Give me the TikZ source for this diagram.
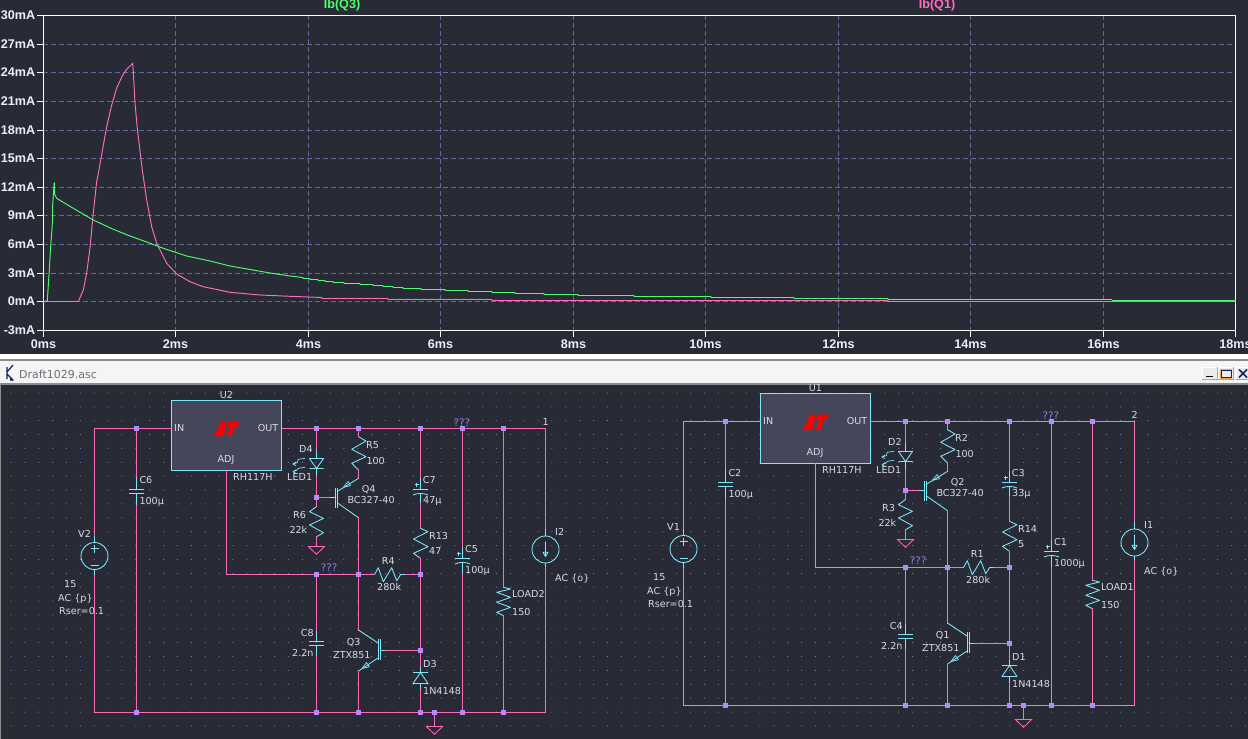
\documentclass[tikz,border=0pt]{standalone}
\usepackage{fontspec}
\setmainfont{DejaVu Sans}
\newfontfamily\plotfont{Liberation Sans}
\definecolor{bgdark}{HTML}{282A36}
\definecolor{griddash}{HTML}{5F6B9E}
\definecolor{griddot}{HTML}{6C7A9C}
\definecolor{wirepink}{HTML}{FF69B9}
\definecolor{wirepale}{HTML}{D98CC6}
\definecolor{compcyan}{HTML}{7EE8FA}
\definecolor{juncpurple}{HTML}{B48CF5}
\definecolor{lbl}{HTML}{D8DBE4}
\definecolor{qmark}{HTML}{8A7FE8}
\definecolor{chipfill}{HTML}{444659}
\definecolor{tracegreen}{HTML}{4DFF6E}
\definecolor{tracepink}{HTML}{FF6EC0}
\definecolor{axislbl}{HTML}{E8F0FF}
\definecolor{titlegrey}{HTML}{6A6E78}
\definecolor{navy}{HTML}{14206A}
\tikzset{
  wire/.style={draw=wirepink,line width=1pt,line cap=rect},
  wirefade/.style={wire},
  comp/.style={draw=compcyan,line width=0.85pt,line join=round},
  junc/.style={fill=juncpurple,draw=none,minimum size=5pt,inner sep=0pt,rectangle},
  gnd/.style={draw=wirepink,line width=0.85pt,line join=miter},
  lab/.style={anchor=west,inner sep=0pt,text=lbl,font=\fontsize{9.6}{11}\selectfont},
  labc/.style={lab,anchor=center},
  qq/.style={lab,text=qmark,font=\fontsize{10.4}{12}\selectfont},
  axis/.style={draw=white,line width=1pt},
  gridl/.style={draw=griddash,line width=0.85pt,dash pattern=on 5pt off 3pt},
  ylab/.style={anchor=east,inner sep=0pt,text=axislbl,font=\plotfont\bfseries\fontsize{12.6}{14}\selectfont},
  xlab/.style={anchor=center,inner sep=0pt,text=axislbl,font=\plotfont\bfseries\fontsize{12.6}{14}\selectfont},
  tgreen/.style={draw=tracegreen,line width=0.95pt,line join=miter},
  tpink/.style={draw=tracepink,line width=0.95pt,line join=miter},
}
\usetikzlibrary{calc}
% polarised capacitor on a vertical wire
\newcommand\pcapshape[2]{%
  \draw[comp] (#1-7.5,#2) -- (#1+7.5,#2);
  \draw[comp] (#1-7.5,#2+5.5) .. controls (#1-3,#2+3.4) and (#1+3,#2+3.4) .. (#1+7.5,#2+5.5);
  \draw[comp] (#1-4-2,#2-5) -- (#1-4+2,#2-5) (#1-4,#2-7) -- (#1-4,#2-3);
}
\newcommand\capshape[2]{%
  \draw[comp] (#1-7.5,#2) -- (#1+7.5,#2) (#1-7.5,#2+4) -- (#1+7.5,#2+4);
}
% schematic: #1 = name prefix
\newcommand\circuitbody[1]{%
  % chip
  \node[draw=compcyan,fill=chipfill,line width=0.9pt,minimum width=110pt,minimum height=70pt,inner sep=0pt] (#1chip) at (226.5,435.5) {};
  \fill[red] (220.7,421.5) -- (226.2,421.5) -- (224,436) -- (213.3,436) -- (214.8,433.5) -- (217.2,431.5) -- cycle;
  \fill[red] (228,421.5) -- (240,421.5) -- (237,426.5) -- (235,426.5) -- (231.5,436) -- (226.5,436) -- (230.5,426.5) -- (227,426.5) -- cycle;
  \node[lab] (#1in) at (174,428) {IN};
  \node[lab,anchor=east] (#1out) at (278.5,428) {OUT};
  \node[labc] (#1adj) at (226,460) {ADJ};
  \node[labc] (#1uname) at (226.5,395) {\LabU};
  \node[lab] (#1uval) at (233,477) {RH117H};
  % junctions
  \node[junc] (#1jc6t) at (136.5,428.5) {};
  \node[junc] (#1jd4t) at (316.5,428.5) {};
  \node[junc] (#1jr5t) at (358.5,428.5) {};
  \node[junc] (#1jc7t) at (420.5,428.5) {};
  \node[junc] (#1jc5t) at (462.5,428.5) {};
  \node[junc] (#1jlt) at (503.5,428.5) {};
  \node[junc] (#1jb) at (316.5,497.5) {};
  \node[junc] (#1jm1) at (316.5,574.5) {};
  \node[junc] (#1jm2) at (358.5,574.5) {};
  \node[junc] (#1jm3) at (420.5,574.5) {};
  \node[junc] (#1jq3) at (420.5,650.5) {};
  \node[junc] (#1jc6b) at (136.5,712.5) {};
  \node[junc] (#1jc8b) at (316.5,712.5) {};
  \node[junc] (#1jq3b) at (358.5,712.5) {};
  \node[junc] (#1jd3b) at (420.5,712.5) {};
  \node[junc] (#1jg) at (434.5,712.5) {};
  \node[junc] (#1jc5b) at (462.5,712.5) {};
  \node[junc] (#1jlb) at (503.5,712.5) {};
  % lead end points
  \coordinate (#1tl) at (94.5,428.5);
  \coordinate (#1tr) at (545.5,428.5);
  \coordinate (#1bl) at (94.5,712.5);
  \coordinate (#1br) at (545.5,712.5);
  \coordinate (#1chipin) at (171.5,428.5);
  \coordinate (#1chipout) at (281.5,428.5);
  \coordinate (#1chipadj) at (226.5,470.5);
  \coordinate (#1adjc) at (226.5,574.5);
  % sources
  \node[draw=compcyan,line width=0.85pt,circle,minimum size=27pt,inner sep=0pt] (#1V) at (94.5,556) {};
  \node[draw=compcyan,line width=0.85pt,circle,minimum size=27pt,inner sep=0pt] (#1I) at (545.5,549.5) {};
  \draw[comp] (94.5,535) -- (94.5,542.5) (94.5,569.5) -- (94.5,575);
  \draw[comp] (90.5,548.5) -- (98.5,548.5) (94.5,544.5) -- (94.5,552.5) (90.5,565.5) -- (98.5,565.5);
  \draw[comp] (545.5,528) -- (545.5,536) (545.5,563) -- (545.5,567);
  \draw[comp] (545.5,541.5) -- (545.5,556.5) (543,552.3) -- (545.5,556.5) -- (548,552.3) -- cycle;
  % main wires
  \draw[wirefade] (#1chipin) -- (#1jc6t) -- (#1tl) -- (94.5,535);
  \draw[wirefade] (94.5,575) -- (#1bl) -- (#1jc6b) -- (#1jc8b) -- (#1jq3b);
  \draw[wire] (#1jq3b) -- (#1jd3b) -- (#1jg) -- (#1jc5b) -- (#1jlb) -- (#1br) -- (545.5,567);
  \draw[wire] (#1chipout) -- (#1jd4t) -- (#1jr5t) -- (#1jc7t) -- (#1jc5t) -- (#1jlt) -- (#1tr) -- (545.5,528);
  \draw[wirefade] (#1chipadj) -- (#1adjc) -- (#1jm1);
  \draw[wire] (#1jm1) -- (#1jm2);
  % C6
  \draw[wirefade] (#1jc6t) -- (136.5,476.5);
  \draw[comp] (136.5,476.5) -- (136.5,489.5) (136.5,493.5) -- (136.5,505);
  \capshape{136.5}{489.5}
  \draw[wirefade] (136.5,505) -- (#1jc6b);
  % C8
  \draw[wire] (#1jm1) -- (316.5,631);
  \draw[comp] (316.5,631) -- (316.5,641.5) (316.5,645.5) -- (316.5,656.5);
  \capshape{316.5}{641.5}
  \draw[wire] (316.5,656.5) -- (#1jc8b);
  % D4 with light arrows
  \draw[wire] (#1jd4t) -- (316.5,450);
  \draw[comp] (316.5,450) -- (316.5,458.5) (316.5,468.5) -- (316.5,476.5);
  \draw[comp] (309.5,458.5) -- (323.5,458.5) -- (316.5,468.5) -- cycle (309.5,468.5) -- (323.5,468.5);
  \draw[wire] (316.5,476.5) -- (#1jb);
  \draw[comp,line width=0.7pt] (305,458.3) -- (298.3,459.3) -- (297.3,462.7) -- (292.7,464) (292.7,464) -- (296,462) (292.7,464) -- (296,465.6);
  \draw[comp,line width=0.7pt] (305,467.3) -- (298.3,468.3) -- (296.7,470.3) -- (292.7,471.7) (292.7,471.7) -- (296,469.8) (292.7,471.7) -- (296,473.4);
  % R6 and ground
  \draw[wire] (#1jb) -- (316.5,506.5);
  \draw[comp] (316.5,506.5) -- (309.5,511.7) -- (323.5,518.4) -- (309.5,525) -- (323.5,532.7) -- (316.5,536.7);
  \draw[wire] (316.5,536.7) -- (316.5,546.5);
  \draw[gnd] (308.5,546.5) -- (324.5,546.5) -- (316.5,554.3) -- cycle;
  % R5
  \draw[wire] (#1jr5t) -- (358.5,436.7);
  \draw[comp] (358.5,436.7) -- (366,441) -- (351.7,449.3) -- (366,456.7) -- (351.7,463.3) -- (358.5,470);
  \draw[wire] (358.5,470) -- (358.5,478.3);
  % Q4
  \draw[comp] (335.5,487.7) -- (335.5,508.3) (337.5,487.7) -- (337.5,508.3);
  \draw[wire] (#1jb) -- (330,497.5);
  \draw[comp] (330,497.5) -- (335.5,497.5);
  \draw[comp] (338,491) -- (358.5,478.3) (338,503.3) -- (358.5,517.7);
  \draw[comp,line width=0.7pt] (343.3,487.3) -- (350.6,485.7) -- (348,481.5) -- cycle;
  \draw[wire] (358.5,517.7) -- (#1jm2) -- (358.5,630);
  % Q3
  \draw[comp] (358.5,630) -- (378,643);
  \draw[comp] (378.5,639.3) -- (378.5,660) (380.5,639.3) -- (380.5,660);
  \draw[comp] (380.5,650.5) -- (385,650.5);
  \draw[wire] (385,650.5) -- (#1jq3);
  \draw[comp] (378,658) -- (358.5,671);
  \draw[comp,line width=0.7pt] (362,668.5) -- (369.3,666.7) -- (366.5,662.5) -- cycle;
  \draw[wire] (358.5,671) -- (#1jq3b);
  % C7, R13
  \draw[wire] (#1jc7t) -- (420.5,478);
  \draw[comp] (420.5,478) -- (420.5,489.5) (420.5,493) -- (420.5,503);
  \pcapshape{420.5}{489.5}
  \draw[wire] (420.5,503) -- (420.5,528.3);
  \draw[comp] (420.5,528.3) -- (428,531.7) -- (413.5,539) -- (428,546.7) -- (413.5,553.3) -- (420.5,558.3);
  \draw[wire] (420.5,558.3) -- (#1jm3) -- (#1jq3) -- (420.5,666.7);
  % R4
  \draw[wire] (#1jm2) -- (374.5,574.5);
  \draw[comp] (374.5,574.5) -- (378.3,567.7) -- (383.3,581.7) -- (391.7,567.7) -- (396.7,580.7) -- (400.7,574.5) -- (405,574.5);
  \draw[wire] (405,574.5) -- (#1jm3);
  % D3
  \draw[comp] (420.5,666.7) -- (420.5,672.5) (420.5,683.5) -- (420.5,690.7);
  \draw[comp] (413,672.5) -- (428,672.5) (420.5,672.5) -- (413,683.5) -- (428,683.5) -- cycle;
  \draw[wire] (420.5,690.7) -- (#1jd3b);
  % ground
  \draw[wire] (#1jg) -- (434.5,726.5);
  \draw[gnd] (426.5,726.5) -- (442.5,726.5) -- (434.5,734.3) -- cycle;
  % C5
  \draw[wire] (#1jc5t) -- (462.5,546.7);
  \draw[comp] (462.5,546.7) -- (462.5,558.5) (462.5,562) -- (462.5,574);
  \pcapshape{462.5}{558.5}
  \draw[wire] (462.5,574) -- (#1jc5b);
  % LOAD
  \draw[wire] (#1jlt) -- (503.5,587.3);
  \draw[comp] (503.5,587.3) -- (510.5,589) -- (496.7,592.3) -- (510.5,597.3) -- (496.7,602.3) -- (510.5,607.3) -- (496.7,612.3) -- (503.5,615.7);
  \draw[wire] (503.5,615.7) -- (#1jlb);
  % junctions above wires
  \foreach \n in {jc6t,jd4t,jr5t,jc7t,jc5t,jlt,jb,jm1,jm2,jm3,jq3,jc6b,jc8b,jq3b,jd3b,jg,jc5b,jlb}{\fill[juncpurple] ($(#1\n)+(-2.5,-2.5)$) rectangle ($(#1\n)+(2.5,2.5)$);}
  % labels
  \node[lab] (#1l1) at (139.3,480) {\LabCg};
  \node[lab] (#1l2) at (139.3,501.7) {100µ};
  \node[lab] (#1l3) at (78,534) {\LabV};
  \node[lab] (#1l4) at (64,584) {15};
  \node[lab] (#1l5) at (58,599) {AC \{p\}};
  \node[lab] (#1l6) at (59,611) {Rser=0.1};
  \node[lab] (#1l7) at (299,449) {\LabD};
  \node[lab] (#1l8) at (287,477) {LED1};
  \node[lab] (#1l9) at (366,445) {\LabR};
  \node[lab] (#1l10) at (366.3,461) {100};
  \node[lab] (#1l11) at (361.7,490) {\LabQ};
  \node[lab] (#1l12) at (347.3,500) {BC327-40};
  \node[lab] (#1l13) at (293,515) {\LabRb};
  \node[lab] (#1l14) at (289.3,530) {22k};
  \node[lab] (#1l15) at (422.7,480) {\LabCc};
  \node[lab] (#1l16) at (423,501) {\ValCc};
  \node[lab] (#1l17) at (429,536) {\LabRc};
  \node[lab] (#1l18) at (429,551) {\ValRc};
  \node[lab] (#1l19) at (381.7,561) {\LabRd};
  \node[lab] (#1l20) at (377,587) {280k};
  \node[qq] (#1l21) at (320.7,567.7) {???};
  \node[qq] (#1l22) at (453.3,422.3) {???};
  \node[lab] (#1l23) at (542.3,422) {\LabN};
  \node[lab] (#1l24) at (300.7,632.7) {\LabCf};
  \node[lab] (#1l25) at (292,653) {2.2n};
  \node[lab] (#1l26) at (346.7,643) {\LabQb};
  \node[lab] (#1l27) at (333,655) {ZTX851};
  \node[lab] (#1l28) at (423,664) {\LabDb};
  \node[lab] (#1l29) at (423,691) {1N4148};
  \node[lab] (#1l30) at (465,549) {\LabCe};
  \node[lab] (#1l31) at (465,571) {\ValCe};
  \node[lab] (#1l32) at (512,594) {\LabL};
  \node[lab] (#1l33) at (512,611.7) {150};
  \node[lab] (#1l34) at (555,532) {\LabI};
  \node[lab] (#1l35) at (555,579) {AC \{o\}};
}
\begin{document}
\begin{tikzpicture}[x=1pt,y=-1pt]
\useasboundingbox (0,0) rectangle (1248,739);
\fill[bgdark] (0,0) rectangle (1248,739);
% ---------- plot ----------
\foreach \yy in {44.5,72.5,101.5,130.5,158.5,187.5,215.5,244.5,273.5,301.5}{\draw[gridl] (43,\yy) -- (1235.5,\yy);}
\foreach \xx in {175.5,308.5,440.5,573.5,705.5,838.5,970.5,1103.5}{\draw[gridl] (\xx,15) -- (\xx,330);}
\foreach \yy/\tt in {15.5/30mA,44.5/27mA,72.5/24mA,101.5/21mA,130.5/18mA,158.5/15mA,187.5/12mA,215.5/9mA,244.5/6mA,273.5/3mA,301.5/0mA,330.5/-3mA}{
  \draw[axis] (37,\yy) -- (43,\yy);
  \node[ylab] (y\tt) at (35.5,\yy) {\tt};
}
\foreach \xx/\tt in {43.5/0ms,175.5/2ms,308.5/4ms,440.5/6ms,573.5/8ms,705.5/10ms,838.5/12ms,970.5/14ms,1103.5/16ms,1235.5/18ms}{
  \draw[axis] (\xx,330.5) -- (\xx,337);
  \node[xlab] (x\tt) at (\xx,344) {\tt};
}
\draw[axis] (43.5,15.5) rectangle (1235.5,330.5);
\draw[tpink] (43,301.5) -- (78.3,301.5) -- (83.3,290) -- (86.7,273) -- (90,248) -- (93.3,213) -- (96.7,181.7) -- (99,170) -- (103,147) -- (106.7,126.7) -- (111.7,105) -- (116.7,88) -- (122.7,75) -- (126.7,69.3) -- (132.7,63.3) -- (133.3,71.7) -- (135,103.3) -- (137.3,128.3) -- (142.3,170) -- (146.7,200) -- (151.7,226.7) -- (156.7,243.3) -- (166.7,263.3) -- (176.7,274) -- (190,281.7) -- (203.3,286.7) -- (230,292.3) -- (260,295) -- (290,296.3) -- (322,297.5) -- (322,298.5) -- (388,298.5) -- (388,299.5) -- (492,299.5) -- (492,300.5) -- (888,300.5) -- (888,301.5) -- (1235.5,301.5);
\draw[tgreen] (43,301.5) -- (47.3,301) -- (49.3,270) -- (50.7,246) -- (52.5,222) -- (52.7,205) -- (53.3,195) -- (54.3,182.3) -- (54.6,194) -- (56.7,198.3) -- (63.3,202.3) -- (73.3,208.3) -- (93.3,220) -- (113.3,229.3) -- (130,236) -- (146.7,242) -- (163.3,248.3) -- (186.7,256) -- (210,261) -- (230,266) -- (250,269.5) -- (270,273) -- (290,276) -- (303,277.5) -- (303,278.5) -- (310,278.5) -- (310,279.5) -- (318,279.5) -- (318,280.5) -- (325,280.5) -- (325,281.5) -- (333,281.5) -- (333,282.5) -- (344,282.5) -- (344,283.5) -- (360,283.5) -- (360,284.5) -- (373,284.5) -- (373,285.5) -- (383,285.5) -- (383,286.5) -- (393,286.5) -- (393,287.5) -- (403,287.5) -- (403,288.5) -- (421,288.5) -- (421,289.5) -- (445,289.5) -- (445,290.5) -- (468,290.5) -- (468,291.5) -- (492,291.5) -- (492,292.5) -- (515,292.5) -- (515,293.5) -- (544,293.5) -- (544,294.5) -- (578,294.5) -- (578,295.5) -- (634,295.5) -- (634,296.5) -- (711,296.5) -- (711,297.5) -- (794,297.5) -- (794,298.5) -- (888,298.5) -- (888,299.5) -- (1112,299.5);
\draw[tgreen,line width=1.3pt] (1112,300.6) -- (1235.5,300.6);
\node[xlab,text=tracegreen] (tq3) at (342,5) {Ib(Q3)};
\node[xlab,text=tracepink] (tq1) at (937,5) {Ib(Q1)};
% ---------- window frame ----------
\fill[white] (0,354) rectangle (1248,358.5);
\fill[black!45] (0,358.5) rectangle (1248,360.5);
\fill[white!96!black] (0,360.5) rectangle (1248,383);
\fill[black!45] (0,383) rectangle (1248,385);
\fill[black!45] (0,385) rectangle (1,739);
\draw[navy,line width=1.2pt] (7,367) -- (7,379) (7,372) -- (13,365) (7,374) -- (13,380);
\fill[navy] (10.5,377) -- (14,380.5) -- (10,380.5) -- cycle;
\node[anchor=west,inner sep=0pt,text=titlegrey,font=\fontsize{11}{12}\selectfont] (title) at (19,374) {Draft1029.asc};
\foreach \bx in {1202,1218,1236}{
  \fill[black!8] (\bx,367) rectangle (\bx+15,379);
  \draw[black!35,line width=0.7pt] (\bx,379) -- (\bx+15,379) -- (\bx+15,367);
  \draw[white,line width=0.7pt] (\bx,379) -- (\bx,367) -- (\bx+15,367);
}
\draw[black,line width=1.3pt] (1206,376.5) -- (1213,376.5);
\draw[orange!70,line width=0.7pt] (1220,369) rectangle (1231,378);
\draw[navy,line width=1pt] (1221,370) -- (1231,370) -- (1231,377) -- (1221,377) -- cycle;
\draw[navy,line width=1.7pt] (1239,369.5) -- (1247,377.5) (1247,369.5) -- (1239,377.5);
% ---------- grid dots ----------
\fill[griddot]
  \foreach \i in {0,...,89}{\foreach \j in {0,...,25}{
     (11+\i*13.87-0.5,393+\j*13.87-0.5) rectangle ++(1,1)
  }};
% ---------- left schematic ----------
\def\LabU{U2}\def\LabCg{C6}\def\LabV{V2}\def\LabD{D4}\def\LabR{R5}\def\LabQ{Q4}\def\LabRb{R6}
\def\LabCc{C7}\def\ValCc{47µ}\def\LabRc{R13}\def\ValRc{47}\def\LabRd{R4}\def\LabN{1}
\def\LabCf{C8}\def\LabQb{Q3}\def\LabDb{D3}\def\LabCe{C5}\def\ValCe{100µ}\def\LabL{LOAD2}\def\LabI{I2}
\circuitbody{L}
% ---------- right schematic ----------
\begin{scope}[shift={(589,-7)},wire/.style={draw=wirepink!90!lbl,line width=1pt,line cap=rect},wirefade/.style={draw=wirepale,line width=1pt,line cap=rect}]
\def\LabU{U1}\def\LabCg{C2}\def\LabV{V1}\def\LabD{D2}\def\LabR{R2}\def\LabQ{Q2}\def\LabRb{R3}
\def\LabCc{C3}\def\ValCc{33µ}\def\LabRc{R14}\def\ValRc{5}\def\LabRd{R1}\def\LabN{2}
\def\LabCf{C4}\def\LabQb{Q1}\def\LabDb{D1}\def\LabCe{C1}\def\ValCe{1000µ}\def\LabL{LOAD1}\def\LabI{I1}
\circuitbody{R}
\end{scope}
\end{tikzpicture}
\end{document}
